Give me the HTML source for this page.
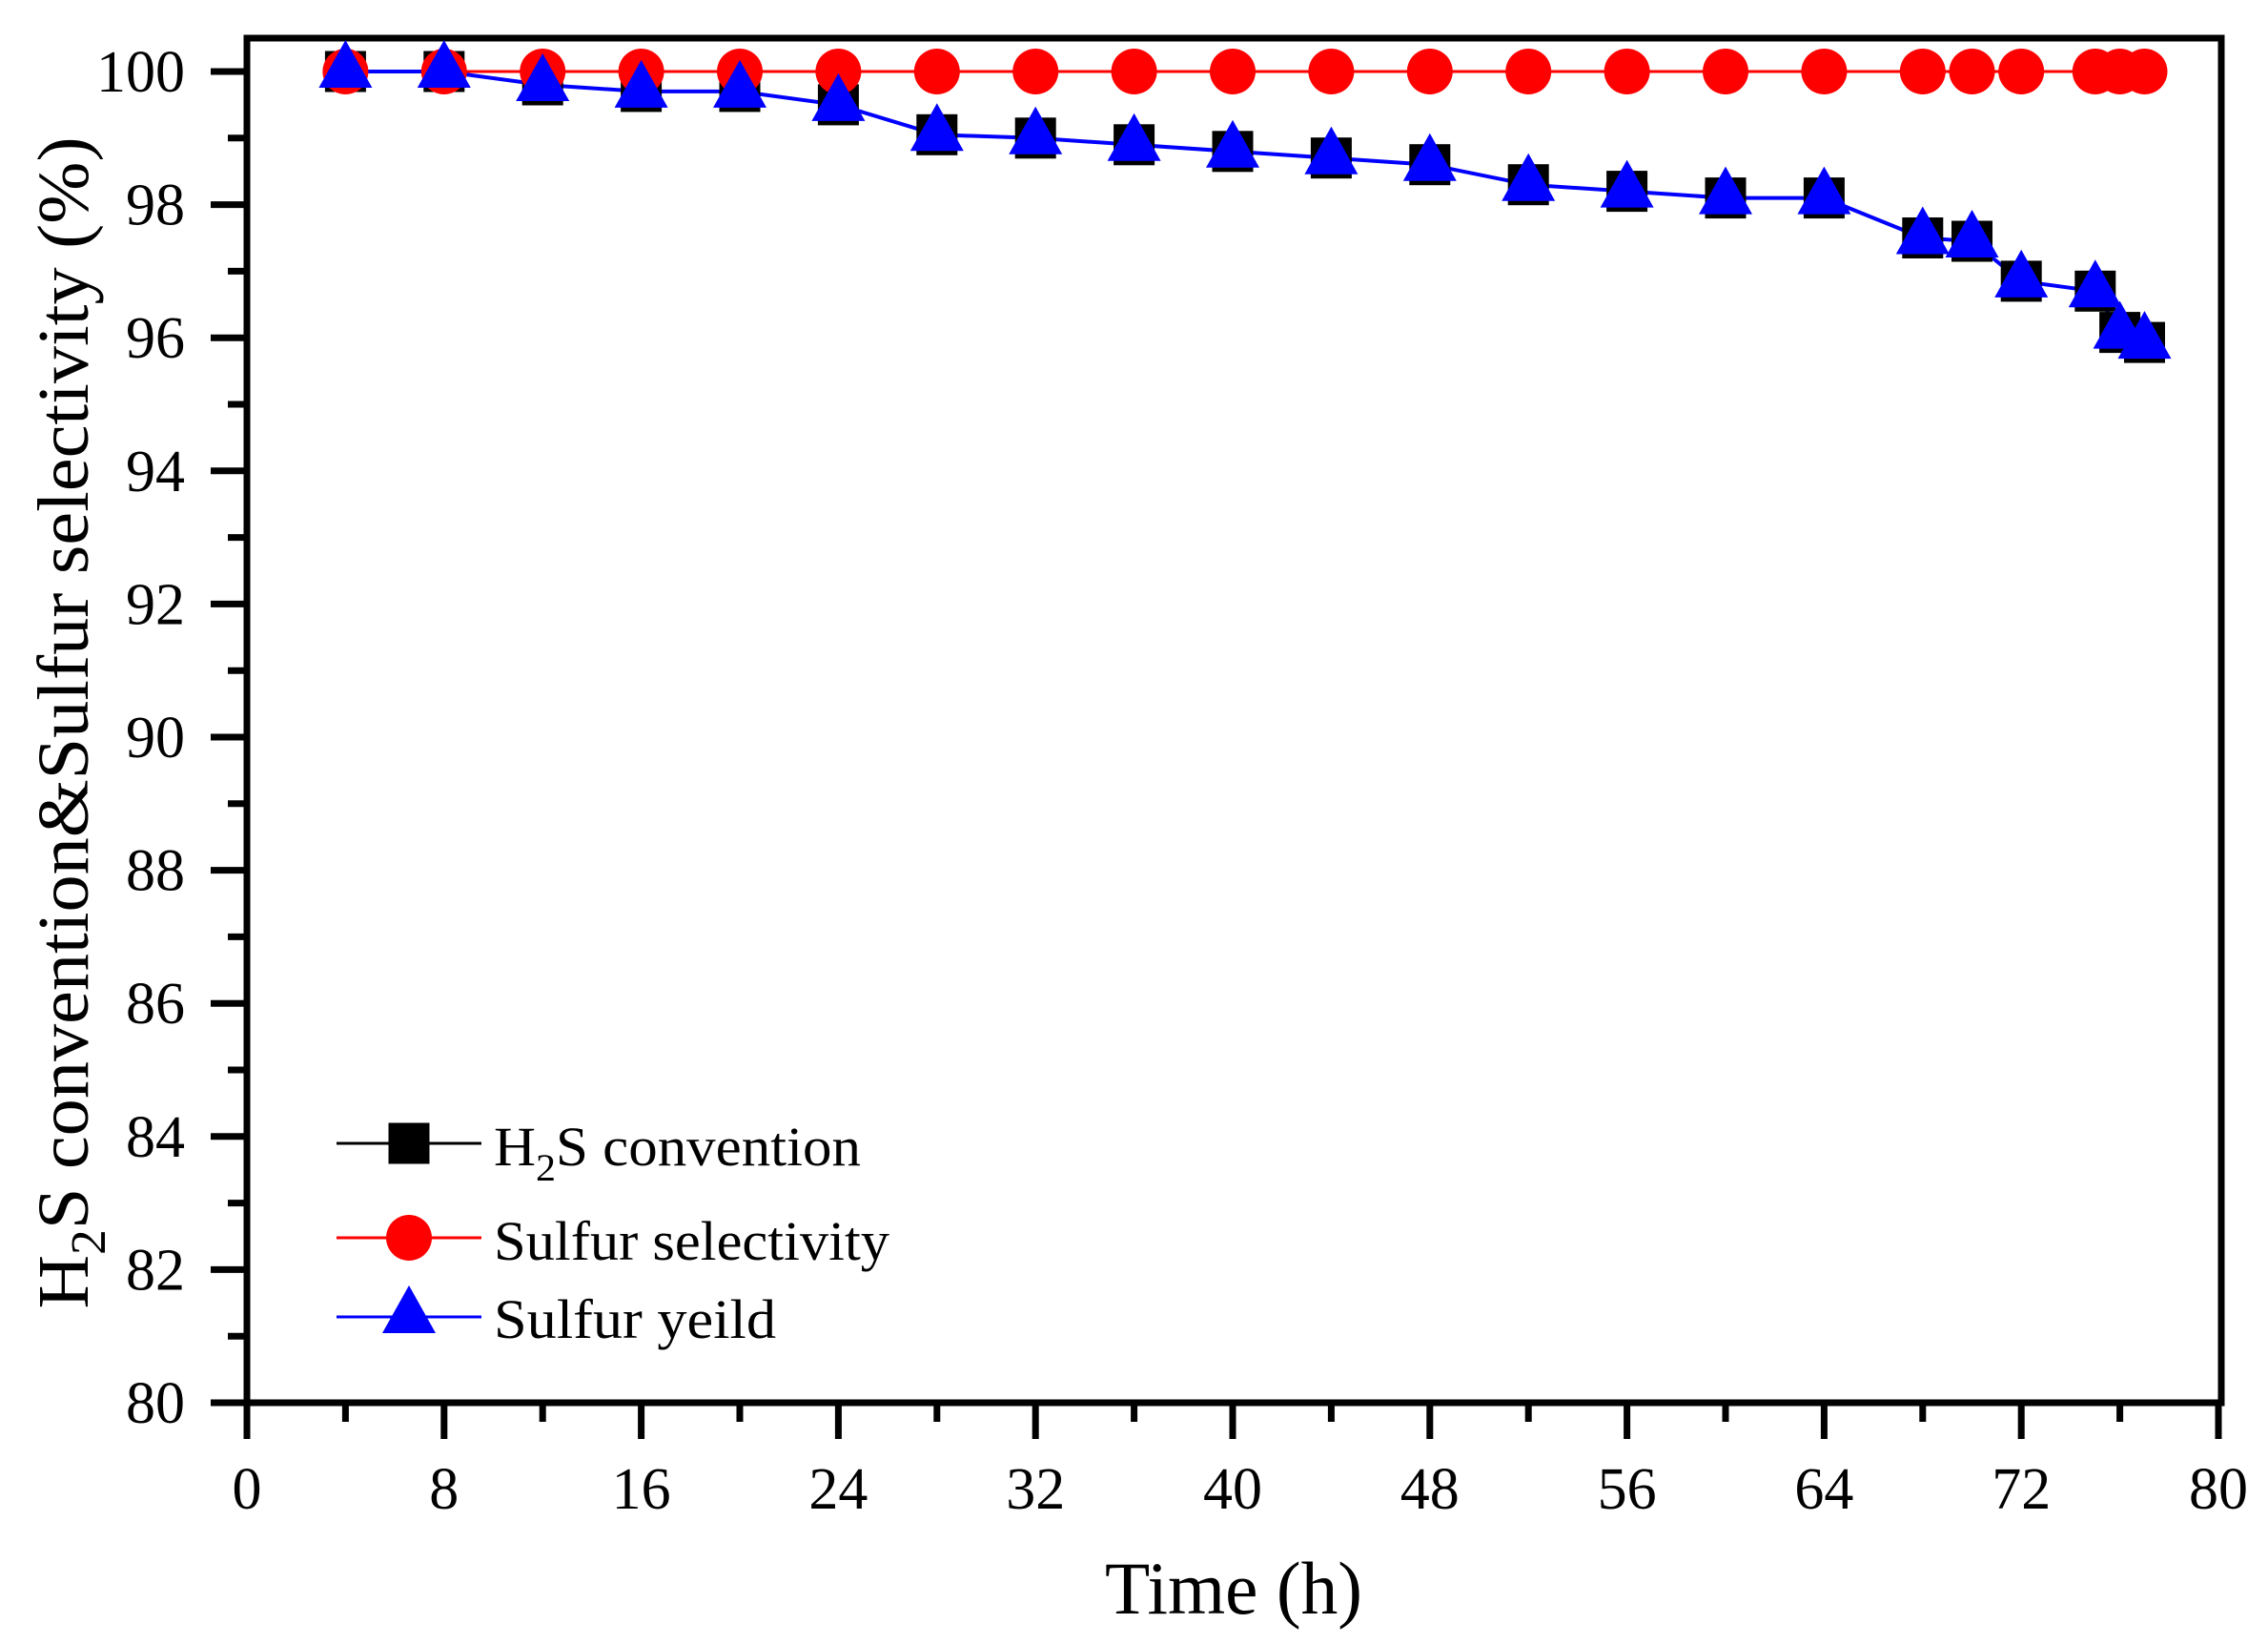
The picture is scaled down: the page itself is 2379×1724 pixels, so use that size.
<!DOCTYPE html>
<html><head><meta charset="utf-8"><style>html,body{margin:0;padding:0;background:#fff}svg{display:block}</style></head>
<body>
<svg width="2379" height="1724" viewBox="0 0 2379 1724" xmlns="http://www.w3.org/2000/svg" xmlns:xlink="http://www.w3.org/1999/xlink" font-family="'Liberation Serif', serif">
<defs>
<rect id="sq" x="-21.5" y="-21.5" width="43" height="43" fill="#000"/>
<circle id="ci" cx="0" cy="0" r="24" fill="#f00"/>
<polygon id="tr" points="0,-33 28,17 -28,17" fill="#00f"/>
</defs>
<rect width="2379" height="1724" fill="#fff"/>
<rect x="259" y="40" width="2071" height="1431" fill="none" stroke="#000" stroke-width="7"/>
<path stroke="#000" stroke-width="7" fill="none" d="
M259 1471V1509 M465.8 1471V1509 M672.6 1471V1509 M879.4 1471V1509 M1086.2 1471V1509 M1293 1471V1509 M1499.8 1471V1509 M1706.6 1471V1509 M1913.4 1471V1509 M2120.2 1471V1509 M2327 1471V1509
M362.4 1471V1491 M569.2 1471V1491 M776 1471V1491 M982.8 1471V1491 M1189.6 1471V1491 M1396.4 1471V1491 M1603.2 1471V1491 M1810 1471V1491 M2016.8 1471V1491 M2223.6 1471V1491
M221 1471H259 M221 1331.4H259 M221 1191.8H259 M221 1052.2H259 M221 912.6H259 M221 773H259 M221 633.4H259 M221 493.8H259 M221 354.2H259 M221 214.6H259 M221 75H259
M239 1401.2H259 M239 1261.6H259 M239 1122H259 M239 982.4H259 M239 842.8H259 M239 703.2H259 M239 563.6H259 M239 424H259 M239 284.4H259 M239 144.8H259"/>
<g font-size="62" text-anchor="middle">
<text x="259" y="1582">0</text><text x="465.8" y="1582">8</text><text x="672.6" y="1582">16</text><text x="879.4" y="1582">24</text><text x="1086.2" y="1582">32</text><text x="1293" y="1582">40</text><text x="1499.8" y="1582">48</text><text x="1706.6" y="1582">56</text><text x="1913.4" y="1582">64</text><text x="2120.2" y="1582">72</text><text x="2327" y="1582">80</text>
</g>
<g font-size="62" text-anchor="end">
<text x="194" y="1492">80</text><text x="194" y="1352.4">82</text><text x="194" y="1212.8">84</text><text x="194" y="1073.2">86</text><text x="194" y="933.6">88</text><text x="194" y="794">90</text><text x="194" y="654.4">92</text><text x="194" y="514.8">94</text><text x="194" y="375.2">96</text><text x="194" y="235.6">98</text><text x="194" y="96">100</text>
</g>
<path fill="none" stroke="#f00" stroke-width="3" d="M362.4 75H2249.5"/>
<path fill="none" stroke="#00f" stroke-width="4" d="M362.4 75L465.8 75L569.2 89L672.6 95.9L776 95.9L879.4 109.9L982.8 141.3L1086.2 144.8L1189.6 151.8L1293 158.8L1396.4 165.7L1499.8 172.7L1603.2 193.7L1706.6 200.6L1810 207.6L1913.4 207.6L2016.8 249.5L2068.5 253L2120.2 294.9L2197.8 305.3L2223.6 348.6L2249.5 359.1"/>
<g>
<use xlink:href="#sq" x="362.4" y="75"/><use xlink:href="#sq" x="465.8" y="75"/><use xlink:href="#sq" x="569.2" y="89"/><use xlink:href="#sq" x="672.6" y="95.9"/><use xlink:href="#sq" x="776" y="95.9"/><use xlink:href="#sq" x="879.4" y="109.9"/><use xlink:href="#sq" x="982.8" y="141.3"/><use xlink:href="#sq" x="1086.2" y="144.8"/><use xlink:href="#sq" x="1189.6" y="151.8"/><use xlink:href="#sq" x="1293" y="158.8"/><use xlink:href="#sq" x="1396.4" y="165.7"/><use xlink:href="#sq" x="1499.8" y="172.7"/><use xlink:href="#sq" x="1603.2" y="193.7"/><use xlink:href="#sq" x="1706.6" y="200.6"/><use xlink:href="#sq" x="1810" y="207.6"/><use xlink:href="#sq" x="1913.4" y="207.6"/><use xlink:href="#sq" x="2016.8" y="249.5"/><use xlink:href="#sq" x="2068.5" y="253"/><use xlink:href="#sq" x="2120.2" y="294.9"/><use xlink:href="#sq" x="2197.8" y="305.3"/><use xlink:href="#sq" x="2223.6" y="348.6"/><use xlink:href="#sq" x="2249.5" y="359.1"/>
</g>
<g>
<use xlink:href="#ci" x="362.4" y="75"/><use xlink:href="#ci" x="465.8" y="75"/><use xlink:href="#ci" x="569.2" y="75"/><use xlink:href="#ci" x="672.6" y="75"/><use xlink:href="#ci" x="776" y="75"/><use xlink:href="#ci" x="879.4" y="75"/><use xlink:href="#ci" x="982.8" y="75"/><use xlink:href="#ci" x="1086.2" y="75"/><use xlink:href="#ci" x="1189.6" y="75"/><use xlink:href="#ci" x="1293" y="75"/><use xlink:href="#ci" x="1396.4" y="75"/><use xlink:href="#ci" x="1499.8" y="75"/><use xlink:href="#ci" x="1603.2" y="75"/><use xlink:href="#ci" x="1706.6" y="75"/><use xlink:href="#ci" x="1810" y="75"/><use xlink:href="#ci" x="1913.4" y="75"/><use xlink:href="#ci" x="2016.8" y="75"/><use xlink:href="#ci" x="2068.5" y="75"/><use xlink:href="#ci" x="2120.2" y="75"/><use xlink:href="#ci" x="2197.8" y="75"/><use xlink:href="#ci" x="2223.6" y="75"/><use xlink:href="#ci" x="2249.5" y="75"/>
</g>
<g>
<use xlink:href="#tr" x="362.4" y="75"/><use xlink:href="#tr" x="465.8" y="75"/><use xlink:href="#tr" x="569.2" y="89"/><use xlink:href="#tr" x="672.6" y="95.9"/><use xlink:href="#tr" x="776" y="95.9"/><use xlink:href="#tr" x="879.4" y="109.9"/><use xlink:href="#tr" x="982.8" y="141.3"/><use xlink:href="#tr" x="1086.2" y="144.8"/><use xlink:href="#tr" x="1189.6" y="151.8"/><use xlink:href="#tr" x="1293" y="158.8"/><use xlink:href="#tr" x="1396.4" y="165.7"/><use xlink:href="#tr" x="1499.8" y="172.7"/><use xlink:href="#tr" x="1603.2" y="193.7"/><use xlink:href="#tr" x="1706.6" y="200.6"/><use xlink:href="#tr" x="1810" y="207.6"/><use xlink:href="#tr" x="1913.4" y="207.6"/><use xlink:href="#tr" x="2016.8" y="249.5"/><use xlink:href="#tr" x="2068.5" y="253"/><use xlink:href="#tr" x="2120.2" y="294.9"/><use xlink:href="#tr" x="2197.8" y="305.3"/><use xlink:href="#tr" x="2223.6" y="348.6"/><use xlink:href="#tr" x="2249.5" y="359.1"/>
</g>
<line x1="353" y1="1199" x2="505" y2="1199" stroke="#000" stroke-width="3"/><use xlink:href="#sq" x="429" y="1199"/>
<line x1="353" y1="1298" x2="505" y2="1298" stroke="#f00" stroke-width="3"/><use xlink:href="#ci" x="429" y="1298"/>
<line x1="353" y1="1381" x2="505" y2="1381" stroke="#00f" stroke-width="3"/><use xlink:href="#tr" x="429" y="1381"/>
<text x="518" y="1222" font-size="58" textLength="385" lengthAdjust="spacingAndGlyphs">H<tspan font-size="40" dy="16">2</tspan><tspan dy="-16">S convention</tspan></text>
<text x="518" y="1321" font-size="58" textLength="415" lengthAdjust="spacingAndGlyphs">Sulfur selectivity</text>
<text x="518" y="1403" font-size="58" textLength="296" lengthAdjust="spacingAndGlyphs">Sulfur yeild</text>
<text x="1294" y="1692" font-size="78" text-anchor="middle" textLength="270" lengthAdjust="spacingAndGlyphs">Time (h)</text>
<text transform="translate(92,758) rotate(-90)" font-size="76" text-anchor="middle" textLength="1229" lengthAdjust="spacingAndGlyphs">H<tspan font-size="52" dy="18">2</tspan><tspan dy="-18">S convention&amp;Sulfur selectivity (%)</tspan></text>
</svg>
</body></html>
